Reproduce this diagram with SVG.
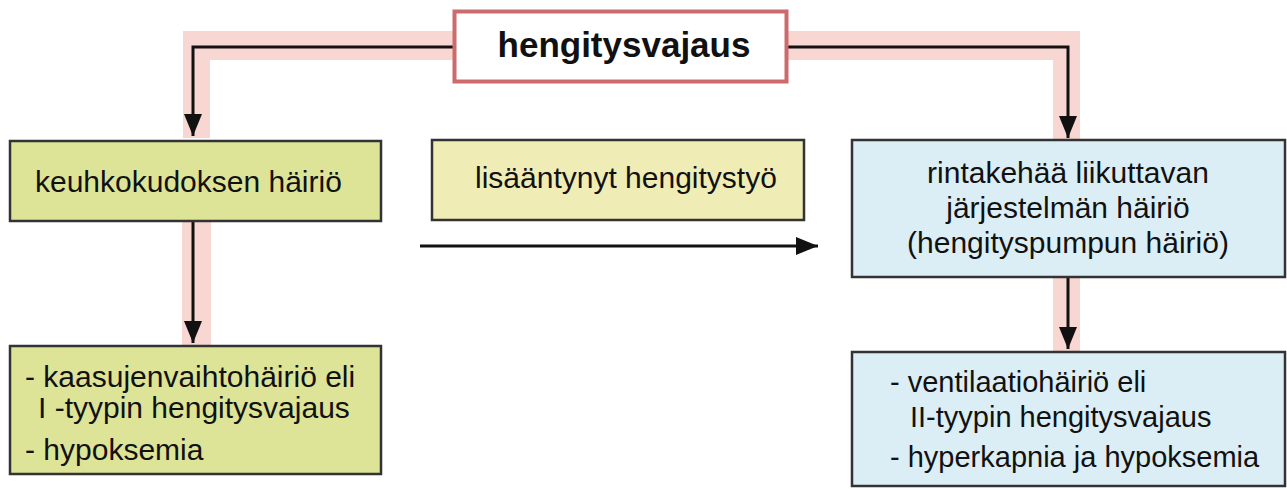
<svg xmlns="http://www.w3.org/2000/svg" width="1287" height="489" viewBox="0 0 1287 489">
  <style>
    .t { font-family: "Liberation Sans", Arial, sans-serif; font-size: 30px; fill: #111; }
    .b { font-weight: bold; font-size: 35px; }
    .s { font-size: 29px; }
    .box { stroke: #333; stroke-width: 2.5; }
    .green { fill: #dde498; }
    .yellow { fill: #f0ecb5; }
    .blue { fill: #dbeef5; }
    .band { fill: #f8d6d2; }
    .ln { fill: none; stroke: #111; stroke-width: 3; }
  </style>
  <defs>
    <marker id="ah" markerUnits="userSpaceOnUse" markerWidth="22" markerHeight="18" refX="22" refY="9" orient="auto">
      <path d="M0,0 L22,9 L0,18 z" fill="#111"/>
    </marker>
  </defs>
  <rect width="1287" height="489" fill="#fff"/>
  <g id="connectors">
    <polygon class="band" points="183,31 453,31 453,60 210,60 210,138 183,138"/>
    <polygon class="band" points="788,31 1080,31 1080,140 1053,140 1053,60 788,60"/>
    <rect class="band" x="182" y="221" width="29" height="124"/>
    <rect class="band" x="1053" y="277" width="27" height="75"/>
    <path class="ln" d="M453,47 H193 V136" marker-end="url(#ah)"/>
    <path class="ln" d="M788,47 H1068 V138" marker-end="url(#ah)"/>
    <path class="ln" d="M193,221 V343" marker-end="url(#ah)"/>
    <path class="ln" d="M1068,277 V349" marker-end="url(#ah)"/>
    <path class="ln" d="M420,246 H818" marker-end="url(#ah)"/>
  </g>
  <g id="n-top">
    <rect x="454.5" y="11.5" width="332" height="70" fill="#fff" stroke="#cc6b6b" stroke-width="4"/>
    <text class="t b" x="624" y="57" text-anchor="middle">hengitysvajaus</text>
  </g>
  <g id="n-keuhko">
    <rect class="box green" x="10" y="141" width="371" height="80"/>
    <text class="t" x="35" y="192">keuhkokudoksen häiriö</text>
  </g>
  <g id="n-tyyppi1">
    <rect class="box green" x="10" y="346" width="371" height="128"/>
    <text class="t" x="25" y="387">- kaasujenvaihtohäiriö eli</text>
    <text class="t" x="38" y="418">I -tyypin hengitysvajaus</text>
    <text class="t" x="25" y="460">- hypoksemia</text>
  </g>
  <g id="n-tyo">
    <rect class="box yellow" x="432" y="140" width="372" height="80"/>
    <text class="t" x="475" y="188">lisääntynyt hengitystyö</text>
  </g>
  <g id="n-rinta">
    <rect class="box blue" x="852" y="140" width="433" height="137"/>
    <text class="t" x="1068" y="183" text-anchor="middle">rintakehää liikuttavan</text>
    <text class="t" x="1068" y="218" text-anchor="middle">järjestelmän häiriö</text>
    <text class="t" x="1068" y="253" text-anchor="middle">(hengityspumpun häiriö)</text>
  </g>
  <g id="n-tyyppi2">
    <rect class="box blue" x="852" y="352" width="433" height="134"/>
    <text class="t s" x="890" y="392">- ventilaatiohäiriö eli</text>
    <text class="t s" x="910" y="427">II-tyypin hengitysvajaus</text>
    <text class="t s" x="890" y="467">- hyperkapnia ja hypoksemia</text>
  </g>
</svg>
